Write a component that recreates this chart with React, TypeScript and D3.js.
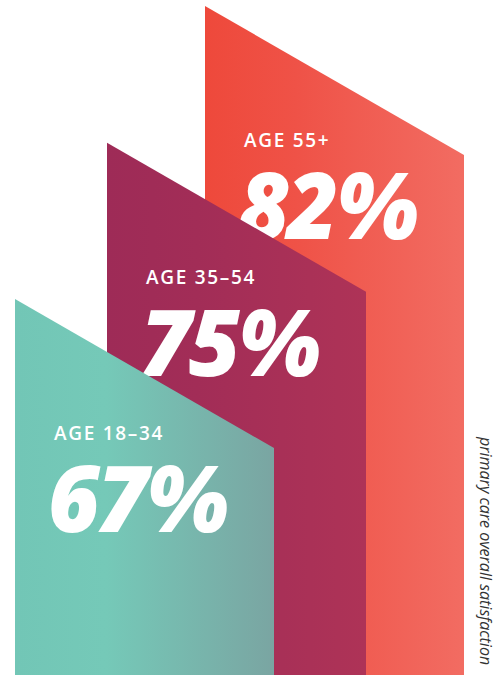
import React from "react";
import * as d3 from "d3";

const groups = ["AGE 18–34", "AGE 35–54", "AGE 55+"];
const values = [67, 75, 82];
const valueLabels = ["67%", "75%", "82%"];
const gradients = [
  ["#72c6b6", "#75c9b8", "#7aa5a2"],
  ["#9e2b57", "#a22d57", "#ae3357"],
  ["#ee493b", "#ef5247", "#f26c62"],
];
const axisTitle = "primary care overall satisfaction";

const W = 496;
const H = 675;
const bandW = 259;
const drop = 149;

export default function App() {
  const x = d3.scaleOrdinal<string, number>().domain(groups).range([15, 107, 205]);
  const y = d3.scaleLinear().domain([67, 82]).range([299, 6]);

  const line = d3.line<[number, number]>();

  // draw back to front: tallest first
  const order = [2, 1, 0];

  return (
    <svg
      width={W}
      height={H}
      style={{ position: "absolute", left: 0, top: 0 }}
    >
      <defs>
        {gradients.map((g, i) => (
          <linearGradient key={i} id={"g" + i} x1="0" x2="1" y1="0" y2="0">
            <stop offset="0%" stopColor={g[0]} />
            <stop offset="35%" stopColor={g[1]} />
            <stop offset="100%" stopColor={g[2]} />
          </linearGradient>
        ))}
      </defs>
      {order.map((i) => {
        const x0 = x(groups[i]);
        const top = y(values[i]);
        const pts: [number, number][] = [
          [x0, H],
          [x0, top],
          [x0 + bandW, top + drop],
          [x0 + bandW, H],
        ];
        return (
          <g key={i}>
            <path d={line(pts) + "Z"} fill={`url(#g${i})`} />
            <text
              x={x0 + 39}
              y={top + 141}
              fill="#fff"
              fontFamily="'Open Sans', sans-serif"
              fontWeight={600}
              fontSize={19}
              letterSpacing={1.7}
            >
              {groups[i]}
            </text>
            <text
              transform={`translate(${x0 + 33},${top + 233}) scale(0.97,1)`}
              fill="#fff"
              fontFamily="'Open Sans', sans-serif"
              fontWeight={800}
              fontStyle="italic"
              fontSize={92}
              letterSpacing={-3}
            >
              {valueLabels[i]}
            </text>
          </g>
        );
      })}
      <text
        transform={`translate(480,437) rotate(90)`}
        fill="#333"
        fontFamily="'Open Sans', sans-serif"
        fontStyle="italic"
        fontWeight={400}
        fontSize={16}
      >
        {axisTitle}
      </text>
    </svg>
  );
}
